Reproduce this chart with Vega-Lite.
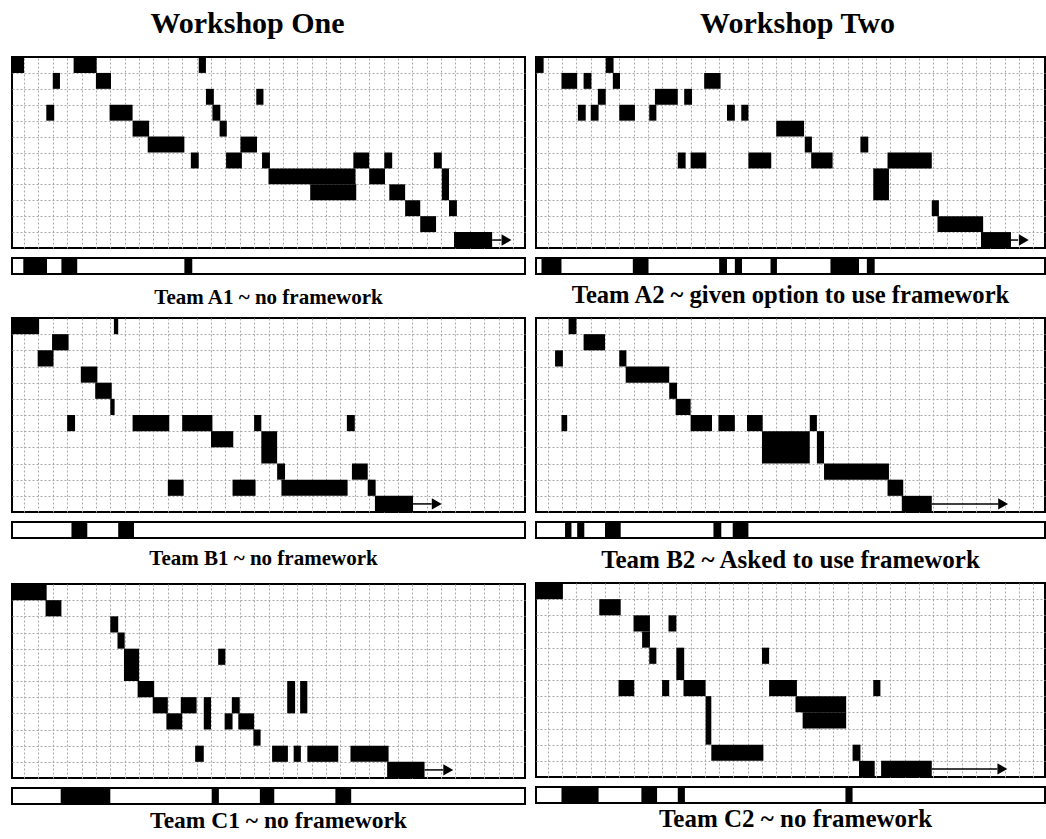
{
  "$schema": "https://vega.github.io/schema/vega-lite/v6.json",
  "background": "white",
  "padding": {"left": 11, "top": 9, "right": 0, "bottom": 0},
  "config": {
    "view": {"stroke": "black", "strokeWidth": 2},
    "axis": {"labels": false, "ticks": false, "domain": false, "title": null, "grid": true, "gridColor": "#a8a8a8", "gridDash": [2, 2], "gridWidth": 1},
    "title": {"font": "Liberation Serif", "fontWeight": "bold", "color": "black", "anchor": "middle"},
    "concat": {"spacing": 8}
  },
  "datasets": {
    "A1": [
      {"a": 0, "b": 2, "r": 0, "s": 1}, {"a": 8.9, "b": 12.1, "r": 0, "s": 1}, {"a": 26.3, "b": 27.3, "r": 0, "s": 1},
      {"a": 6, "b": 7, "r": 1, "s": 2}, {"a": 12, "b": 14.1, "r": 1, "s": 2},
      {"a": 27.3, "b": 28.4, "r": 2, "s": 3}, {"a": 34.3, "b": 35.3, "r": 2, "s": 3},
      {"a": 5.1, "b": 6.2, "r": 3, "s": 4}, {"a": 13.9, "b": 17.1, "r": 3, "s": 4}, {"a": 28.2, "b": 29.3, "r": 3, "s": 4},
      {"a": 17.1, "b": 19.4, "r": 4, "s": 5}, {"a": 29.2, "b": 30.2, "r": 4, "s": 5},
      {"a": 19.2, "b": 24.3, "r": 5, "s": 6}, {"a": 32.1, "b": 34.4, "r": 5, "s": 6},
      {"a": 25.2, "b": 26.3, "r": 6, "s": 7}, {"a": 30.1, "b": 32.3, "r": 6, "s": 7}, {"a": 35.1, "b": 36.2, "r": 6, "s": 7}, {"a": 47.8, "b": 50, "r": 6, "s": 7}, {"a": 52.1, "b": 53.2, "r": 6, "s": 7}, {"a": 59, "b": 60.1, "r": 6, "s": 7},
      {"a": 36, "b": 48.1, "r": 7, "s": 8}, {"a": 50, "b": 52.2, "r": 7, "s": 8}, {"a": 60.1, "b": 61.1, "r": 7, "s": 9},
      {"a": 41.8, "b": 48.2, "r": 8, "s": 9}, {"a": 52.8, "b": 55, "r": 8, "s": 9},
      {"a": 55, "b": 57.1, "r": 9, "s": 10}, {"a": 61.1, "b": 62.2, "r": 9, "s": 10},
      {"a": 57.1, "b": 59.3, "r": 10, "s": 11},
      {"a": 61.8, "b": 67.1, "r": 11, "s": 12}
    ],
    "A1s": [{"a": 1.9, "b": 5.2}, {"a": 7.2, "b": 9.4}, {"a": 24.3, "b": 25.4}],
    "A2": [
      {"a": 0, "b": 1.4, "r": 0, "s": 1}, {"a": 10.1, "b": 11.2, "r": 0, "s": 1},
      {"a": 3.9, "b": 6.1, "r": 1, "s": 2}, {"a": 7, "b": 8.1, "r": 1, "s": 2}, {"a": 11.1, "b": 12.1, "r": 1, "s": 2}, {"a": 23.9, "b": 26.2, "r": 1, "s": 2},
      {"a": 9, "b": 10.1, "r": 2, "s": 3}, {"a": 17, "b": 20.2, "r": 2, "s": 3}, {"a": 21.1, "b": 22.2, "r": 2, "s": 3},
      {"a": 6.2, "b": 7.3, "r": 3, "s": 4}, {"a": 8, "b": 9.1, "r": 3, "s": 4}, {"a": 12, "b": 14.2, "r": 3, "s": 4}, {"a": 16.2, "b": 17.2, "r": 3, "s": 4}, {"a": 27.1, "b": 28.2, "r": 3, "s": 4}, {"a": 29.1, "b": 30.1, "r": 3, "s": 4},
      {"a": 34, "b": 37.9, "r": 4, "s": 5},
      {"a": 38, "b": 39, "r": 5, "s": 6}, {"a": 45.8, "b": 46.9, "r": 5, "s": 6},
      {"a": 20.2, "b": 21.3, "r": 6, "s": 7}, {"a": 22, "b": 24.2, "r": 6, "s": 7}, {"a": 30.1, "b": 33.3, "r": 6, "s": 7}, {"a": 38.9, "b": 41.9, "r": 6, "s": 7}, {"a": 49.6, "b": 55.8, "r": 6, "s": 7},
      {"a": 47.6, "b": 49.8, "r": 7, "s": 9},
      {"a": 55.8, "b": 56.8, "r": 9, "s": 10},
      {"a": 56.6, "b": 63, "r": 10, "s": 11},
      {"a": 62.7, "b": 66.9, "r": 11, "s": 12}
    ],
    "A2s": [{"a": 1.1, "b": 3.9}, {"a": 13.9, "b": 16.1}, {"a": 26, "b": 27.1}, {"a": 28.2, "b": 29.2}, {"a": 33.2, "b": 34.1}, {"a": 41.6, "b": 45.6}, {"a": 46.7, "b": 47.8}],
    "B1": [
      {"a": 0, "b": 4.1, "r": 0, "s": 1}, {"a": 14.5, "b": 15.1, "r": 0, "s": 1},
      {"a": 5.9, "b": 8.2, "r": 1, "s": 2},
      {"a": 3.9, "b": 6.1, "r": 2, "s": 3},
      {"a": 9.9, "b": 12.2, "r": 3, "s": 4},
      {"a": 11.9, "b": 14.2, "r": 4, "s": 5},
      {"a": 14, "b": 14.6, "r": 5, "s": 6},
      {"a": 8, "b": 9.1, "r": 6, "s": 7}, {"a": 17.1, "b": 22.2, "r": 6, "s": 7}, {"a": 24, "b": 28.2, "r": 6, "s": 7}, {"a": 34, "b": 35, "r": 6, "s": 7}, {"a": 46.9, "b": 48, "r": 6, "s": 7},
      {"a": 28, "b": 31.1, "r": 7, "s": 8}, {"a": 35, "b": 37.2, "r": 7, "s": 9},
      {"a": 37.2, "b": 38.3, "r": 9, "s": 10}, {"a": 47.6, "b": 49.8, "r": 9, "s": 10},
      {"a": 22, "b": 24.2, "r": 10, "s": 11}, {"a": 31, "b": 34.2, "r": 10, "s": 11}, {"a": 37.8, "b": 47, "r": 10, "s": 11}, {"a": 49.8, "b": 50.9, "r": 10, "s": 11},
      {"a": 50.8, "b": 56.1, "r": 11, "s": 12}
    ],
    "B1s": [{"a": 8.6, "b": 10.8}, {"a": 15.1, "b": 17.3}],
    "B2": [
      {"a": 4.9, "b": 6, "r": 0, "s": 1},
      {"a": 7, "b": 10, "r": 1, "s": 2},
      {"a": 3, "b": 4.1, "r": 2, "s": 3}, {"a": 12, "b": 13, "r": 2, "s": 3},
      {"a": 12.9, "b": 19, "r": 3, "s": 4},
      {"a": 19, "b": 20.1, "r": 4, "s": 5},
      {"a": 19.9, "b": 22, "r": 5, "s": 6},
      {"a": 3.9, "b": 4.7, "r": 6, "s": 7}, {"a": 22, "b": 25, "r": 6, "s": 7}, {"a": 25.9, "b": 28.2, "r": 6, "s": 7}, {"a": 29.9, "b": 32.1, "r": 6, "s": 7}, {"a": 38.7, "b": 39.7, "r": 6, "s": 7},
      {"a": 32, "b": 38.7, "r": 7, "s": 9}, {"a": 39.7, "b": 40.7, "r": 7, "s": 9},
      {"a": 40.7, "b": 49.8, "r": 9, "s": 10},
      {"a": 49.6, "b": 51.8, "r": 10, "s": 11},
      {"a": 51.6, "b": 55.8, "r": 11, "s": 12}
    ],
    "B2s": [{"a": 4.4, "b": 5.3}, {"a": 6.1, "b": 7.1}, {"a": 10, "b": 12.2}, {"a": 25.2, "b": 26.3}, {"a": 27.9, "b": 30.1}],
    "C1": [
      {"a": 0, "b": 5.15, "r": 0, "s": 1},
      {"a": 5, "b": 7.2, "r": 1, "s": 2},
      {"a": 14, "b": 15.1, "r": 2, "s": 3},
      {"a": 15, "b": 16, "r": 3, "s": 4},
      {"a": 15.9, "b": 18, "r": 4, "s": 6}, {"a": 29, "b": 30, "r": 4, "s": 5},
      {"a": 17.8, "b": 20.1, "r": 6, "s": 7}, {"a": 38.6, "b": 39.7, "r": 6, "s": 8}, {"a": 40.4, "b": 41.4, "r": 6, "s": 8},
      {"a": 19.9, "b": 22, "r": 7, "s": 8}, {"a": 23.8, "b": 26, "r": 7, "s": 8}, {"a": 30.9, "b": 32, "r": 7, "s": 8}, {"a": 27, "b": 28, "r": 7, "s": 9},
      {"a": 21.8, "b": 24, "r": 8, "s": 9}, {"a": 29.9, "b": 31, "r": 8, "s": 9}, {"a": 31.8, "b": 34, "r": 8, "s": 9},
      {"a": 33.9, "b": 34.9, "r": 9, "s": 10},
      {"a": 25.8, "b": 27, "r": 10, "s": 11}, {"a": 36.5, "b": 38.7, "r": 10, "s": 11}, {"a": 39.5, "b": 40.5, "r": 10, "s": 11}, {"a": 41.4, "b": 45.7, "r": 10, "s": 11}, {"a": 47.4, "b": 52.7, "r": 10, "s": 11},
      {"a": 52.5, "b": 57.7, "r": 11, "s": 12}
    ],
    "C1s": [{"a": 7.1, "b": 14}, {"a": 28.1, "b": 29.1}, {"a": 34.8, "b": 36.8}, {"a": 45.3, "b": 47.5}],
    "C2": [
      {"a": 0, "b": 4.1, "r": 0, "s": 1},
      {"a": 9.2, "b": 12.2, "r": 1, "s": 2},
      {"a": 14, "b": 16.3, "r": 2, "s": 3}, {"a": 18.9, "b": 20, "r": 2, "s": 3},
      {"a": 15.2, "b": 16.3, "r": 3, "s": 4},
      {"a": 16.2, "b": 17.2, "r": 4, "s": 5}, {"a": 32, "b": 33, "r": 4, "s": 5}, {"a": 20, "b": 21.1, "r": 4, "s": 6},
      {"a": 11.9, "b": 14.1, "r": 6, "s": 7}, {"a": 18, "b": 19, "r": 6, "s": 7}, {"a": 21, "b": 24.1, "r": 6, "s": 7}, {"a": 33, "b": 36.9, "r": 6, "s": 7}, {"a": 47.6, "b": 48.6, "r": 6, "s": 7},
      {"a": 24.1, "b": 24.9, "r": 7, "s": 10}, {"a": 36.7, "b": 43.8, "r": 7, "s": 8},
      {"a": 37.7, "b": 43.8, "r": 8, "s": 9},
      {"a": 24.9, "b": 32.2, "r": 10, "s": 11}, {"a": 44.7, "b": 45.8, "r": 10, "s": 11},
      {"a": 45.6, "b": 47.8, "r": 11, "s": 12}, {"a": 48.7, "b": 55.8, "r": 11, "s": 12}
    ],
    "C2s": [{"a": 3.9, "b": 9.1}, {"a": 15.1, "b": 17.3}, {"a": 20.2, "b": 21.2}, {"a": 43.7, "b": 44.7}],
    "arrows": [
      {"p": "A1", "a": 67.1, "b": 68.4, "r": 11.5},
      {"p": "A2", "a": 66.9, "b": 67.9, "r": 11.5},
      {"p": "B1", "a": 56.1, "b": 58.7, "r": 11.5},
      {"p": "B2", "a": 55.8, "b": 65.1, "r": 11.5},
      {"p": "C1", "a": 57.7, "b": 60.3, "r": 11.5},
      {"p": "C2", "a": 55.8, "b": 65, "r": 11.5}
    ],
    "heads": [
      {"p": "A1", "a": 69.1, "r": 11.5},
      {"p": "A2", "a": 68.7, "r": 11.5},
      {"p": "B1", "a": 59.4, "r": 11.5},
      {"p": "B2", "a": 65.8, "r": 11.5},
      {"p": "C1", "a": 61, "r": 11.5},
      {"p": "C2", "a": 65.7, "r": 11.5}
    ]
  },
  "spacing": 9,
  "hconcat": [
    {
      "title": {"text": "Workshop One", "fontSize": 30, "dx": -21, "offset": 17},
      "vconcat": [
        {
          "width": 513, "height": 191,
          "encoding": {
            "x": {"field": "a", "type": "quantitative", "scale": {"domain": [0.33, 71.67], "nice": false, "zero": false}, "axis": {"values": [2,4,6,8,10,12,14,16,18,20,22,24,26,28,30,32,34,36,38,40,42,44,46,48,50,52,54,56,58,60,62,64,66,68,70]}},
            "y": {"field": "r", "type": "quantitative", "scale": {"domain": [0, 12], "reverse": true, "nice": false, "zero": false}, "axis": {"values": [1,2,3,4,5,6,7,8,9,10,11]}}
          },
          "layer": [
            {"data": {"name": "A1"}, "mark": {"type": "rect", "color": "black", "clip": true}, "encoding": {"x2": {"field": "b"}, "y2": {"field": "s"}}},
            {"data": {"name": "arrows"}, "transform": [{"filter": "datum.p == 'A1'"}], "mark": {"type": "rule", "color": "black", "strokeWidth": 1.5}, "encoding": {"x2": {"field": "b"}}},
            {"data": {"name": "heads"}, "transform": [{"filter": "datum.p == 'A1'"}], "mark": {"type": "point", "shape": "triangle-right", "filled": true, "color": "black", "opacity": 1, "size": 130}}
          ]
        },
        {
          "width": 513, "height": 16,
          "title": {"text": "Team A1 ~ no framework", "orient": "bottom", "fontSize": 21, "offset": 13},
          "data": {"name": "A1s"},
          "mark": {"type": "rect", "color": "black"},
          "encoding": {"x": {"field": "a", "type": "quantitative", "scale": {"domain": [0.33, 71.67], "nice": false, "zero": false}, "axis": null}, "x2": {"field": "b"}}
        },
        {
          "width": 513, "height": 194,
          "encoding": {
            "x": {"field": "a", "type": "quantitative", "scale": {"domain": [0.33, 71.67], "nice": false, "zero": false}, "axis": {"values": [2,4,6,8,10,12,14,16,18,20,22,24,26,28,30,32,34,36,38,40,42,44,46,48,50,52,54,56,58,60,62,64,66,68,70]}},
            "y": {"field": "r", "type": "quantitative", "scale": {"domain": [0, 12], "reverse": true, "nice": false, "zero": false}, "axis": {"values": [1,2,3,4,5,6,7,8,9,10,11]}}
          },
          "layer": [
            {"data": {"name": "B1"}, "mark": {"type": "rect", "color": "black", "clip": true}, "encoding": {"x2": {"field": "b"}, "y2": {"field": "s"}}},
            {"data": {"name": "arrows"}, "transform": [{"filter": "datum.p == 'B1'"}], "mark": {"type": "rule", "color": "black", "strokeWidth": 1.5}, "encoding": {"x2": {"field": "b"}}},
            {"data": {"name": "heads"}, "transform": [{"filter": "datum.p == 'B1'"}], "mark": {"type": "point", "shape": "triangle-right", "filled": true, "color": "black", "opacity": 1, "size": 130}}
          ]
        },
        {
          "width": 513, "height": 16,
          "data": {"name": "B1s"},
          "mark": {"type": "rect", "color": "black"},
          "encoding": {"x": {"field": "a", "type": "quantitative", "scale": {"domain": [0.33, 71.67], "nice": false, "zero": false}, "axis": null}, "x2": {"field": "b"}}
        },
        {
          "width": 513, "height": 194,
          "title": {"text": "Team B1 ~ no framework", "orient": "top", "fontSize": 21, "offset": 15, "dx": -5},
          "encoding": {
            "x": {"field": "a", "type": "quantitative", "scale": {"domain": [0.33, 71.67], "nice": false, "zero": false}, "axis": {"values": [2,4,6,8,10,12,14,16,18,20,22,24,26,28,30,32,34,36,38,40,42,44,46,48,50,52,54,56,58,60,62,64,66,68,70]}},
            "y": {"field": "r", "type": "quantitative", "scale": {"domain": [0, 12], "reverse": true, "nice": false, "zero": false}, "axis": {"values": [1,2,3,4,5,6,7,8,9,10,11]}}
          },
          "layer": [
            {"data": {"name": "C1"}, "mark": {"type": "rect", "color": "black", "clip": true}, "encoding": {"x2": {"field": "b"}, "y2": {"field": "s"}}},
            {"data": {"name": "arrows"}, "transform": [{"filter": "datum.p == 'C1'"}], "mark": {"type": "rule", "color": "black", "strokeWidth": 1.5}, "encoding": {"x2": {"field": "b"}}},
            {"data": {"name": "heads"}, "transform": [{"filter": "datum.p == 'C1'"}], "mark": {"type": "point", "shape": "triangle-right", "filled": true, "color": "black", "opacity": 1, "size": 130}}
          ]
        },
        {
          "width": 513, "height": 16,
          "title": {"text": "Team C1 ~ no framework", "orient": "bottom", "fontSize": 23.5, "offset": 5, "dx": 10},
          "data": {"name": "C1s"},
          "mark": {"type": "rect", "color": "black"},
          "encoding": {"x": {"field": "a", "type": "quantitative", "scale": {"domain": [0.33, 71.67], "nice": false, "zero": false}, "axis": null}, "x2": {"field": "b"}}
        }
      ]
    },
    {
      "title": {"text": "Workshop Two", "fontSize": 30, "dx": 7, "offset": 17},
      "vconcat": [
        {
          "width": 509, "height": 191,
          "encoding": {
            "x": {"field": "a", "type": "quantitative", "scale": {"domain": [0.33, 71.67], "nice": false, "zero": false}, "axis": {"values": [2,4,6,8,10,12,14,16,18,20,22,24,26,28,30,32,34,36,38,40,42,44,46,48,50,52,54,56,58,60,62,64,66,68,70]}},
            "y": {"field": "r", "type": "quantitative", "scale": {"domain": [0, 12], "reverse": true, "nice": false, "zero": false}, "axis": {"values": [1,2,3,4,5,6,7,8,9,10,11]}}
          },
          "layer": [
            {"data": {"name": "A2"}, "mark": {"type": "rect", "color": "black", "clip": true}, "encoding": {"x2": {"field": "b"}, "y2": {"field": "s"}}},
            {"data": {"name": "arrows"}, "transform": [{"filter": "datum.p == 'A2'"}], "mark": {"type": "rule", "color": "black", "strokeWidth": 1.5}, "encoding": {"x2": {"field": "b"}}},
            {"data": {"name": "heads"}, "transform": [{"filter": "datum.p == 'A2'"}], "mark": {"type": "point", "shape": "triangle-right", "filled": true, "color": "black", "opacity": 1, "size": 130}}
          ]
        },
        {
          "width": 509, "height": 16,
          "title": {"text": "Team A2 ~ given option to use framework", "orient": "bottom", "fontSize": 24.6, "offset": 9.5},
          "data": {"name": "A2s"},
          "mark": {"type": "rect", "color": "black"},
          "encoding": {"x": {"field": "a", "type": "quantitative", "scale": {"domain": [0.33, 71.67], "nice": false, "zero": false}, "axis": null}, "x2": {"field": "b"}}
        },
        {
          "width": 509, "height": 194,
          "encoding": {
            "x": {"field": "a", "type": "quantitative", "scale": {"domain": [0.33, 71.67], "nice": false, "zero": false}, "axis": {"values": [2,4,6,8,10,12,14,16,18,20,22,24,26,28,30,32,34,36,38,40,42,44,46,48,50,52,54,56,58,60,62,64,66,68,70]}},
            "y": {"field": "r", "type": "quantitative", "scale": {"domain": [0, 12], "reverse": true, "nice": false, "zero": false}, "axis": {"values": [1,2,3,4,5,6,7,8,9,10,11]}}
          },
          "layer": [
            {"data": {"name": "B2"}, "mark": {"type": "rect", "color": "black", "clip": true}, "encoding": {"x2": {"field": "b"}, "y2": {"field": "s"}}},
            {"data": {"name": "arrows"}, "transform": [{"filter": "datum.p == 'B2'"}], "mark": {"type": "rule", "color": "black", "strokeWidth": 1.5}, "encoding": {"x2": {"field": "b"}}},
            {"data": {"name": "heads"}, "transform": [{"filter": "datum.p == 'B2'"}], "mark": {"type": "point", "shape": "triangle-right", "filled": true, "color": "black", "opacity": 1, "size": 130}}
          ]
        },
        {
          "width": 509, "height": 16,
          "data": {"name": "B2s"},
          "mark": {"type": "rect", "color": "black"},
          "encoding": {"x": {"field": "a", "type": "quantitative", "scale": {"domain": [0.33, 71.67], "nice": false, "zero": false}, "axis": null}, "x2": {"field": "b"}}
        },
        {
          "width": 509, "height": 194,
          "title": {"text": "Team B2 ~ Asked to use framework", "orient": "top", "fontSize": 25, "offset": 10},
          "encoding": {
            "x": {"field": "a", "type": "quantitative", "scale": {"domain": [0.33, 71.67], "nice": false, "zero": false}, "axis": {"values": [2,4,6,8,10,12,14,16,18,20,22,24,26,28,30,32,34,36,38,40,42,44,46,48,50,52,54,56,58,60,62,64,66,68,70]}},
            "y": {"field": "r", "type": "quantitative", "scale": {"domain": [0, 12], "reverse": true, "nice": false, "zero": false}, "axis": {"values": [1,2,3,4,5,6,7,8,9,10,11]}}
          },
          "layer": [
            {"data": {"name": "C2"}, "mark": {"type": "rect", "color": "black", "clip": true}, "encoding": {"x2": {"field": "b"}, "y2": {"field": "s"}}},
            {"data": {"name": "arrows"}, "transform": [{"filter": "datum.p == 'C2'"}], "mark": {"type": "rule", "color": "black", "strokeWidth": 1.5}, "encoding": {"x2": {"field": "b"}}},
            {"data": {"name": "heads"}, "transform": [{"filter": "datum.p == 'C2'"}], "mark": {"type": "point", "shape": "triangle-right", "filled": true, "color": "black", "opacity": 1, "size": 130}}
          ]
        },
        {
          "width": 509, "height": 16,
          "title": {"text": "Team C2 ~ no framework", "orient": "bottom", "fontSize": 25, "offset": 4, "dx": 5},
          "data": {"name": "C2s"},
          "mark": {"type": "rect", "color": "black"},
          "encoding": {"x": {"field": "a", "type": "quantitative", "scale": {"domain": [0.33, 71.67], "nice": false, "zero": false}, "axis": null}, "x2": {"field": "b"}}
        }
      ]
    }
  ]
}
